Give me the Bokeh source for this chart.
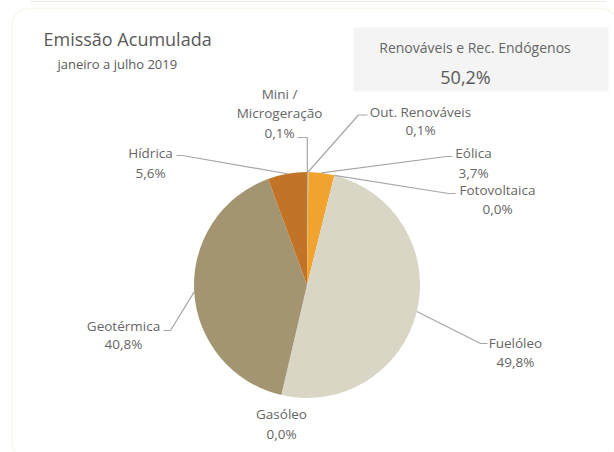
import math
from bokeh.plotting import figure
from bokeh.models import Range1d, BoxAnnotation, ColumnDataSource
from bokeh.core.properties import value
from bokeh.embed import file_html
from bokeh.resources import INLINE

# ---- data ----
categories = ["Mini / Microgeração", "Out. Renováveis", "Eólica", "Fotovoltaica",
              "Fuelóleo", "Gasóleo", "Geotérmica", "Hídrica"]
values = [0.1, 0.1, 3.7, 0.0, 49.8, 0.0, 40.8, 5.6]
colors = ["#8C8C8C", "#D9B56A", "#F0A32E", "#F5C342",
          "#DAD6C6", "#7F7F7F", "#A39572", "#C17428"]
title_text = "Emissão Acumulada"
subtitle_text = "janeiro a julho 2019"
kpi_label = "Renováveis e Rec. Endógenos"
kpi_value = "50,2%"

# ---- layout (picture pixel positions) ----
W, H = 614, 452
def sy(y):
    return H - y

cx, cy, R = 306.5, 284.5, 113.0

name_lines = [["Mini /", "Microgeração"], ["Out. Renováveis"], ["Eólica"], ["Fotovoltaica"],
              ["Fuelóleo"], ["Gasóleo"], ["Geotérmica"], ["Hídrica"]]
label_x = [279, 420, 473, 497, 515, 281, 123, 150]
label_y = [93, 111, 152, 189, 342, 413, 325, 152]
line_gap = [19.5, 18.5, 20, 19, 19, 20, 18, 20]
show_leader = [True, True, True, True, True, False, True, True]
elbow_x = [306.8, 358, 446, 448, 480, None, 170, 182]
elbow_y = [137, 114.5, 156, 193, 343, None, 330, 155]
end_x = [297, 367, 452, 455, 487, None, 163, 176]
end_y = [137, 114.5, 156, 193, 343, None, 330, 155]

p = figure(width=W, height=H, x_range=Range1d(0, W), y_range=Range1d(0, H),
           toolbar_location=None, output_backend="svg", min_border=0)
p.axis.visible = False
p.grid.visible = False
p.outline_line_color = None
p.background_fill_color = "white"
p.border_fill_color = "white"

# faint edge of the card above
p.segment(x0=[30], y0=[sy(0.8)], x1=[606], y1=[sy(0.8)], line_color="#EFECE3", line_width=1.2)

# card border
card = BoxAnnotation(left=11.5, right=617, top=sy(8), bottom=sy(458),
                     fill_alpha=0, line_color="#E8E0C4", line_width=1.5,
                     border_radius=17, level="underlay")
p.add_layout(card)
# KPI box
kpi_box = BoxAnnotation(left=353, right=608, top=sy(27), bottom=sy(91),
                        fill_color="#F4F4F4", fill_alpha=1, line_color=None,
                        level="underlay")
p.add_layout(kpi_box)

# ---- pie ----
total = sum(values)
starts, ends, mids = [], [], []
cum = 0.0
for v in values:
    a0 = math.pi / 2 - 2 * math.pi * cum / total
    cum += v
    a1 = math.pi / 2 - 2 * math.pi * cum / total
    starts.append(a1)
    ends.append(a0)
    mids.append((a0 + a1) / 2)

keep = [i for i, v in enumerate(values) if v > 0]
src = ColumnDataSource(dict(start=[starts[i] for i in keep], end=[ends[i] for i in keep],
                            color=[colors[i] for i in keep],
                            cat=[categories[i] for i in keep]))
p.wedge(x=cx, y=sy(cy), radius=R, start_angle="start", end_angle="end",
        fill_color="color", line_color=None, source=src)

# ---- leader lines ----
xs, ys = [], []
for i in range(len(values)):
    if not show_leader[i]:
        continue
    ax = cx + R * math.cos(mids[i])
    ay = sy(cy) + R * math.sin(mids[i])
    xs.append([ax, elbow_x[i], end_x[i]])
    ys.append([ay, sy(elbow_y[i]), sy(end_y[i])])
p.multi_line(xs=xs, ys=ys, line_color="#A6A6A6", line_width=1.2)

# ---- labels ----
font = value("Open Sans")
tx, ty, tt = [], [], []
for i, v in enumerate(values):
    n = len(name_lines[i])
    for k, ln in enumerate(name_lines[i]):
        tx.append(label_x[i])
        ty.append(sy(label_y[i] + k * line_gap[i]))
        tt.append(ln)
    tx.append(label_x[i])
    ty.append(sy(label_y[i] + n * line_gap[i]))
    tt.append(f"{v:.1f}".replace(".", ",") + "%")
p.text(x=tx, y=ty, text=tt, text_font=font, text_font_size="13.5px",
       text_color="#666666", text_align="center", text_baseline="middle")

# ---- titles ----
p.text(x=[43], y=[sy(38)], text=[title_text], text_font=font, text_font_size="18px",
       text_color="#595959", text_align="left", text_baseline="middle")
p.text(x=[57], y=[sy(63)], text=[subtitle_text], text_font=font, text_font_size="13px",
       text_color="#595959", text_align="left", text_baseline="middle")
p.text(x=[474.5], y=[sy(47)], text=[kpi_label], text_font=font, text_font_size="14px",
       text_color="#666666", text_align="center", text_baseline="middle")
p.text(x=[465], y=[sy(76)], text=[kpi_value], text_font=font, text_font_size="18px",
       text_color="#595959", text_align="center", text_baseline="middle")

open("out.html", "w").write(file_html(p, INLINE))
